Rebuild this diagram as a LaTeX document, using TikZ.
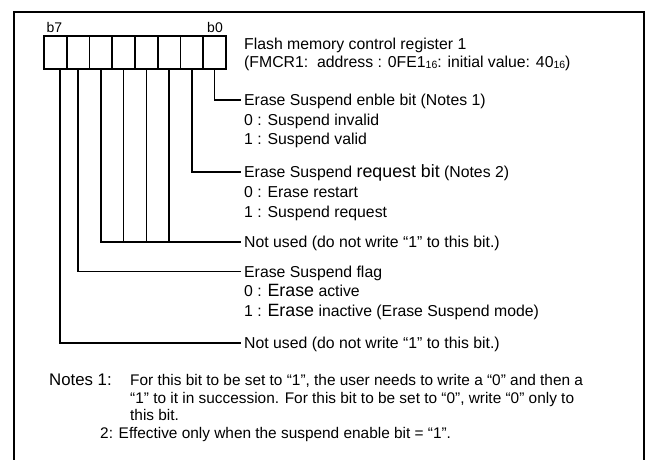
\documentclass[tikz,border=0pt]{standalone}
\usepackage{fontspec}
\setmainfont{Liberation Sans}
\newcommand{\hexsub}[1]{\raisebox{-0.8pt}{\fontsize{10.5}{10}\selectfont #1}}
\newcommand{\bigw}[1]{{\fontsize{17.8}{19}\selectfont #1}}
\begin{document}
\begin{tikzpicture}[x=1pt,y=-1pt,
  frame/.style={line width=1.8pt},
  bitbox/.style={draw, line width=1.7pt, minimum width=22.75pt, minimum height=33pt, inner sep=0pt, outer sep=0pt},
  wire/.style={line width=1.7pt},
  desc/.style={anchor=west, inner sep=0pt, text height=11.4pt, text depth=0pt, font=\fontsize{15.8}{19}\selectfont},
  note/.style={anchor=west, inner sep=0pt, text height=11.4pt, text depth=0pt, font=\fontsize{15.4}{18}\selectfont},
  bitlab/.style={anchor=base, inner sep=0pt, font=\fontsize{14}{14}\selectfont}]
\useasboundingbox (0,0) rectangle (647,459);
\clip (0,0) rectangle (647,459);
\draw[frame] (14,470) -- (14,12) -- (644,12) -- (644,470);
% register bits
\foreach \b [count=\i from 0] in {7,6,5,4,3,2,1,0}
  \node[bitbox] (bit\b) at ({55.375+22.75*\i},52.5) {};
\node[bitlab] (lb7) at (54.5,32.5) {b7};
\node[bitlab] (lb0) at (215,32.5) {b0};
% titles
\node[desc] (title1) at (244,44) {Flash memory control register 1};
\node[desc] (title2) at (244,62) {(FMCR1:\ \ address : 0FE1\hexsub{16}: initial value: 40\hexsub{16})};
% bit 0
\node[desc] (t0) at (244,100) {Erase Suspend enble bit (Notes 1)};
\node[desc] (t0a) at (244,119.5) {0 : Suspend invalid};
\node[desc] (t0b) at (244,139) {1 : Suspend valid};
% bit 1
\node[desc] (t1) at (244,172) {Erase Suspend \bigw{request bit} (Notes 2)};
\node[desc] (t1a) at (244,192) {0 : Erase restart};
\node[desc] (t1b) at (244,212) {1 : Suspend request};
% bits 2-5
\node[desc] (t25) at (244,242) {Not used (do not write “1” to this bit.)};
% bit 6
\node[desc] (t6) at (244,271.5) {Erase Suspend flag};
\node[desc] (t6a) at (244,291) {0 : \bigw{Erase} active};
\node[desc] (t6b) at (244,310.5) {1 : \bigw{Erase} inactive (Erase Suspend mode)};
% bit 7
\node[desc] (t7) at (244,343) {Not used (do not write “1” to this bit.)};
% connectors
\draw[wire] (bit0.south) |- ([xshift=-3.5pt]t0.west);
\draw[wire] (bit1.south) |- ([xshift=-3.5pt]t1.west);
\draw[wire] (bit5.south) |- ([xshift=-3.5pt]t25.west);
\foreach \b in {4,3,2}
  \draw[wire] (bit\b.south) -- (bit\b.south |- t25.west);
\draw[wire] (bit6.south) |- ([xshift=-3.5pt]t6.west);
\draw[wire] ([xshift=4.6pt]bit7.south) |- ([xshift=-3.5pt]t7.west);
% notes
\node[note, font=\fontsize{16.8}{18}\selectfont] (n1) at (49,380) {Notes 1:};
\node[note] (n1a) at (130,380) {For this bit to be set to “1”, the user needs to write a “0” and then a};
\node[note] (n1b) at (130,397.5) {“1” to it in succession. For this bit to be set to “0”, write “0” only to};
\node[note] (n1c) at (130,415) {this bit.};
\node[note] (n2) at (100,432.5) {2: Effective only when the suspend enable bit = “1”.};
\end{tikzpicture}
\end{document}
